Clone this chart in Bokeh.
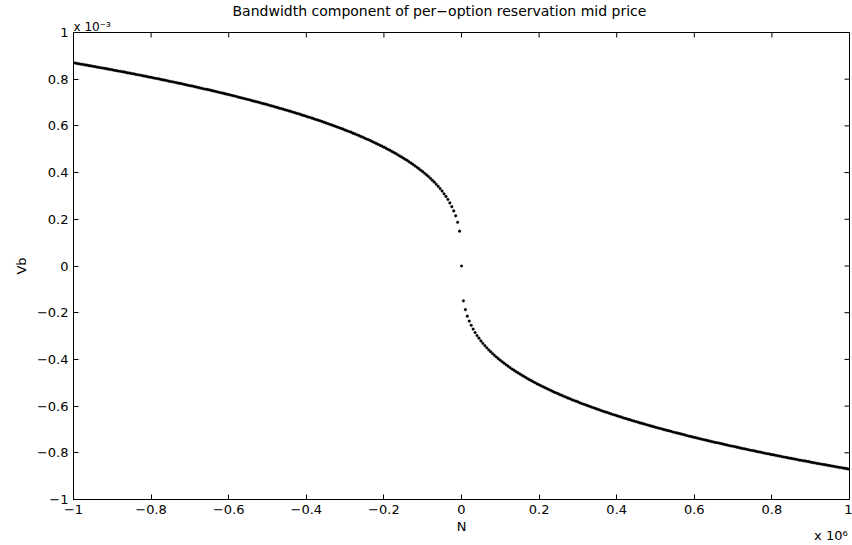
from bokeh.plotting import figure
from bokeh.models import LinearAxis, FixedTicker, Title, ColumnDataSource
from bokeh.embed import file_html
from bokeh.resources import INLINE
import math

# N in units of 1e6
N_e6 = [
    -1.000, -0.995, -0.990, -0.985, -0.980, -0.975, -0.970, -0.965, -0.960, -0.955,
    -0.950, -0.945, -0.940, -0.935, -0.930, -0.925, -0.920, -0.915, -0.910, -0.905,
    -0.900, -0.895, -0.890, -0.885, -0.880, -0.875, -0.870, -0.865, -0.860, -0.855,
    -0.850, -0.845, -0.840, -0.835, -0.830, -0.825, -0.820, -0.815, -0.810, -0.805,
    -0.800, -0.795, -0.790, -0.785, -0.780, -0.775, -0.770, -0.765, -0.760, -0.755,
    -0.750, -0.745, -0.740, -0.735, -0.730, -0.725, -0.720, -0.715, -0.710, -0.705,
    -0.700, -0.695, -0.690, -0.685, -0.680, -0.675, -0.670, -0.665, -0.660, -0.655,
    -0.650, -0.645, -0.640, -0.635, -0.630, -0.625, -0.620, -0.615, -0.610, -0.605,
    -0.600, -0.595, -0.590, -0.585, -0.580, -0.575, -0.570, -0.565, -0.560, -0.555,
    -0.550, -0.545, -0.540, -0.535, -0.530, -0.525, -0.520, -0.515, -0.510, -0.505,
    -0.500, -0.495, -0.490, -0.485, -0.480, -0.475, -0.470, -0.465, -0.460, -0.455,
    -0.450, -0.445, -0.440, -0.435, -0.430, -0.425, -0.420, -0.415, -0.410, -0.405,
    -0.400, -0.395, -0.390, -0.385, -0.380, -0.375, -0.370, -0.365, -0.360, -0.355,
    -0.350, -0.345, -0.340, -0.335, -0.330, -0.325, -0.320, -0.315, -0.310, -0.305,
    -0.300, -0.295, -0.290, -0.285, -0.280, -0.275, -0.270, -0.265, -0.260, -0.255,
    -0.250, -0.245, -0.240, -0.235, -0.230, -0.225, -0.220, -0.215, -0.210, -0.205,
    -0.200, -0.195, -0.190, -0.185, -0.180, -0.175, -0.170, -0.165, -0.160, -0.155,
    -0.150, -0.145, -0.140, -0.135, -0.130, -0.125, -0.120, -0.115, -0.110, -0.105,
    -0.100, -0.095, -0.090, -0.085, -0.080, -0.075, -0.070, -0.065, -0.060, -0.055,
    -0.050, -0.045, -0.040, -0.035, -0.030, -0.025, -0.020, -0.015, -0.010, -0.005,
    0.000,
    0.005, 0.010, 0.015, 0.020, 0.025, 0.030, 0.035, 0.040, 0.045, 0.050,
    0.055, 0.060, 0.065, 0.070, 0.075, 0.080, 0.085, 0.090, 0.095, 0.100,
    0.105, 0.110, 0.115, 0.120, 0.125, 0.130, 0.135, 0.140, 0.145, 0.150,
    0.155, 0.160, 0.165, 0.170, 0.175, 0.180, 0.185, 0.190, 0.195, 0.200,
    0.205, 0.210, 0.215, 0.220, 0.225, 0.230, 0.235, 0.240, 0.245, 0.250,
    0.255, 0.260, 0.265, 0.270, 0.275, 0.280, 0.285, 0.290, 0.295, 0.300,
    0.305, 0.310, 0.315, 0.320, 0.325, 0.330, 0.335, 0.340, 0.345, 0.350,
    0.355, 0.360, 0.365, 0.370, 0.375, 0.380, 0.385, 0.390, 0.395, 0.400,
    0.405, 0.410, 0.415, 0.420, 0.425, 0.430, 0.435, 0.440, 0.445, 0.450,
    0.455, 0.460, 0.465, 0.470, 0.475, 0.480, 0.485, 0.490, 0.495, 0.500,
    0.505, 0.510, 0.515, 0.520, 0.525, 0.530, 0.535, 0.540, 0.545, 0.550,
    0.555, 0.560, 0.565, 0.570, 0.575, 0.580, 0.585, 0.590, 0.595, 0.600,
    0.605, 0.610, 0.615, 0.620, 0.625, 0.630, 0.635, 0.640, 0.645, 0.650,
    0.655, 0.660, 0.665, 0.670, 0.675, 0.680, 0.685, 0.690, 0.695, 0.700,
    0.705, 0.710, 0.715, 0.720, 0.725, 0.730, 0.735, 0.740, 0.745, 0.750,
    0.755, 0.760, 0.765, 0.770, 0.775, 0.780, 0.785, 0.790, 0.795, 0.800,
    0.805, 0.810, 0.815, 0.820, 0.825, 0.830, 0.835, 0.840, 0.845, 0.850,
    0.855, 0.860, 0.865, 0.870, 0.875, 0.880, 0.885, 0.890, 0.895, 0.900,
    0.905, 0.910, 0.915, 0.920, 0.925, 0.930, 0.935, 0.940, 0.945, 0.950,
    0.955, 0.960, 0.965, 0.970, 0.975, 0.980, 0.985, 0.990, 0.995, 1.000,
]

# Vb in units of 1e-3
Vb_e3 = [
    0.870, 0.869, 0.867, 0.866, 0.864, 0.863, 0.861, 0.860, 0.858, 0.857,
    0.855, 0.854, 0.852, 0.851, 0.849, 0.848, 0.846, 0.845, 0.843, 0.842,
    0.840, 0.838, 0.837, 0.835, 0.834, 0.832, 0.831, 0.829, 0.827, 0.826,
    0.824, 0.823, 0.821, 0.819, 0.818, 0.816, 0.814, 0.813, 0.811, 0.809,
    0.808, 0.806, 0.804, 0.803, 0.801, 0.799, 0.797, 0.796, 0.794, 0.792,
    0.790, 0.789, 0.787, 0.785, 0.783, 0.782, 0.780, 0.778, 0.776, 0.774,
    0.772, 0.771, 0.769, 0.767, 0.765, 0.763, 0.761, 0.759, 0.757, 0.756,
    0.754, 0.752, 0.750, 0.748, 0.746, 0.744, 0.742, 0.740, 0.738, 0.736,
    0.734, 0.732, 0.730, 0.728, 0.726, 0.723, 0.721, 0.719, 0.717, 0.715,
    0.713, 0.711, 0.708, 0.706, 0.704, 0.702, 0.700, 0.697, 0.695, 0.693,
    0.691, 0.688, 0.686, 0.684, 0.681, 0.679, 0.676, 0.674, 0.672, 0.669,
    0.667, 0.664, 0.662, 0.659, 0.657, 0.654, 0.652, 0.649, 0.646, 0.644,
    0.641, 0.638, 0.636, 0.633, 0.630, 0.627, 0.625, 0.622, 0.619, 0.616,
    0.613, 0.610, 0.607, 0.604, 0.601, 0.598, 0.595, 0.592, 0.589, 0.586,
    0.582, 0.579, 0.576, 0.573, 0.569, 0.566, 0.562, 0.559, 0.555, 0.552,
    0.548, 0.544, 0.541, 0.537, 0.533, 0.529, 0.525, 0.521, 0.517, 0.513,
    0.509, 0.505, 0.500, 0.496, 0.491, 0.487, 0.482, 0.477, 0.472, 0.467,
    0.462, 0.457, 0.452, 0.446, 0.441, 0.435, 0.429, 0.423, 0.417, 0.410,
    0.404, 0.397, 0.390, 0.383, 0.375, 0.367, 0.359, 0.350, 0.341, 0.331,
    0.321, 0.309, 0.298, 0.285, 0.270, 0.254, 0.236, 0.215, 0.187, 0.149,
    0.000,
    -0.149, -0.187, -0.215, -0.236, -0.254, -0.270, -0.285, -0.298, -0.309, -0.321,
    -0.331, -0.341, -0.350, -0.359, -0.367, -0.375, -0.383, -0.390, -0.397, -0.404,
    -0.410, -0.417, -0.423, -0.429, -0.435, -0.441, -0.446, -0.452, -0.457, -0.462,
    -0.467, -0.472, -0.477, -0.482, -0.487, -0.491, -0.496, -0.500, -0.505, -0.509,
    -0.513, -0.517, -0.521, -0.525, -0.529, -0.533, -0.537, -0.541, -0.544, -0.548,
    -0.552, -0.555, -0.559, -0.562, -0.566, -0.569, -0.573, -0.576, -0.579, -0.582,
    -0.586, -0.589, -0.592, -0.595, -0.598, -0.601, -0.604, -0.607, -0.610, -0.613,
    -0.616, -0.619, -0.622, -0.625, -0.627, -0.630, -0.633, -0.636, -0.638, -0.641,
    -0.644, -0.646, -0.649, -0.652, -0.654, -0.657, -0.659, -0.662, -0.664, -0.667,
    -0.669, -0.672, -0.674, -0.676, -0.679, -0.681, -0.684, -0.686, -0.688, -0.691,
    -0.693, -0.695, -0.697, -0.700, -0.702, -0.704, -0.706, -0.708, -0.711, -0.713,
    -0.715, -0.717, -0.719, -0.721, -0.723, -0.726, -0.728, -0.730, -0.732, -0.734,
    -0.736, -0.738, -0.740, -0.742, -0.744, -0.746, -0.748, -0.750, -0.752, -0.754,
    -0.756, -0.757, -0.759, -0.761, -0.763, -0.765, -0.767, -0.769, -0.771, -0.772,
    -0.774, -0.776, -0.778, -0.780, -0.782, -0.783, -0.785, -0.787, -0.789, -0.790,
    -0.792, -0.794, -0.796, -0.797, -0.799, -0.801, -0.803, -0.804, -0.806, -0.808,
    -0.809, -0.811, -0.813, -0.814, -0.816, -0.818, -0.819, -0.821, -0.823, -0.824,
    -0.826, -0.827, -0.829, -0.831, -0.832, -0.834, -0.835, -0.837, -0.838, -0.840,
    -0.842, -0.843, -0.845, -0.846, -0.848, -0.849, -0.851, -0.852, -0.854, -0.855,
    -0.857, -0.858, -0.860, -0.861, -0.863, -0.864, -0.866, -0.867, -0.869, -0.870,
]

x_ticks = [-1, -0.8, -0.6, -0.4, -0.2, 0, 0.2, 0.4, 0.6, 0.8, 1]
x_tick_labels = ["\u22121", "\u22120.8", "\u22120.6", "\u22120.4", "\u22120.2", "0",
                 "0.2", "0.4", "0.6", "0.8", "1"]
y_ticks = [-1, -0.8, -0.6, -0.4, -0.2, 0, 0.2, 0.4, 0.6, 0.8, 1]
y_tick_labels = ["\u22121", "\u22120.8", "\u22120.6", "\u22120.4", "\u22120.2", "0",
                 "0.2", "0.4", "0.6", "0.8", "1"]

title_text = "Bandwidth component of per\u2212option reservation mid price"
x_label = "N"
y_label = "Vb"
x_exponent = "x 10\u2076"
y_exponent = "x 10\u207b\u00b3"

FONT = "DejaVu Sans"
FS = "13px"

p = figure(width=852, height=545, x_range=(-1, 1), y_range=(-1, 1),
           title=None, output_backend="svg", toolbar_location=None, tools="",
           min_border_left=73, min_border_right=3, min_border_top=31, min_border_bottom=45,
           x_axis_location=None, y_axis_location=None)
p.grid.visible = False
p.outline_line_color = "black"
p.outline_line_width = 1
p.background_fill_color = "white"
p.border_fill_color = "white"

def style_axis(ax, ticks, labels):
    ax.ticker = FixedTicker(ticks=ticks)
    ax.minor_tick_line_color = None
    ax.major_tick_in = 5
    ax.major_tick_out = 0
    ax.axis_line_color = "black"
    ax.major_tick_line_color = "black"
    ax.major_label_text_font = FONT
    ax.major_label_overrides = {t: l for t, l in zip(ticks, labels)}
    ax.major_label_text_font_size = FS
    ax.major_label_text_color = "black"
    ax.axis_label_text_font = FONT
    ax.axis_label_text_font_size = FS
    ax.axis_label_text_font_style = "normal"
    ax.axis_label_text_color = "black"

bx = LinearAxis(axis_label=x_label)
style_axis(bx, x_ticks, x_tick_labels)
bx.major_label_standoff = 5
bx.axis_label_standoff = 2
p.add_layout(bx, "below")

# the x10^6 exponent, drawn as a lone label of a bare second x axis
x_exp_pos = 0.952
ex = LinearAxis()
ex.ticker = FixedTicker(ticks=[x_exp_pos])
ex.major_label_overrides = {x_exp_pos: x_exponent}
ex.axis_line_color = None
ex.major_tick_line_color = None
ex.minor_tick_line_color = None
ex.major_tick_in = 0
ex.major_tick_out = 0
ex.major_label_standoff = -9
ex.major_label_text_font = FONT
ex.major_label_text_font_size = FS
ex.major_label_text_color = "black"
p.add_layout(ex, "below")

ly = LinearAxis(axis_label=y_label)
style_axis(ly, y_ticks, y_tick_labels)
ly.major_label_standoff = 5
ly.axis_label_standoff = 5
p.add_layout(ly, "left")

# inward ticks on the top and right edges of the box
top_src = ColumnDataSource(data=dict(x=x_ticks, y=[y_ticks[-1]] * len(x_ticks)))
right_src = ColumnDataSource(data=dict(x=[x_ticks[-1]] * len(y_ticks), y=y_ticks))
p.scatter("x", "y", source=top_src, marker="dash", size=10, angle=math.pi / 2,
          line_color="black", line_width=1)
p.scatter("x", "y", source=right_src, marker="dash", size=10,
          line_color="black", line_width=1)

src = ColumnDataSource(data=dict(n=N_e6, vb=Vb_e3))
p.scatter("n", "vb", source=src, size=2.7, marker="circle",
          fill_color="black", line_color="black", line_width=0.3)

# exponent of the y axis (closest to the frame), then the main title
p.add_layout(Title(text=y_exponent, align="left", offset=0, standoff=-2,
                   text_font=FONT, text_font_size="12px", text_font_style="normal",
                   text_color="black"), "above")
p.add_layout(Title(text=title_text, align="left", offset=159, standoff=0,
                   text_font=FONT, text_font_size="14px", text_font_style="normal",
                   text_color="black"), "above")

open("out.html", "w").write(file_html(p, INLINE))
